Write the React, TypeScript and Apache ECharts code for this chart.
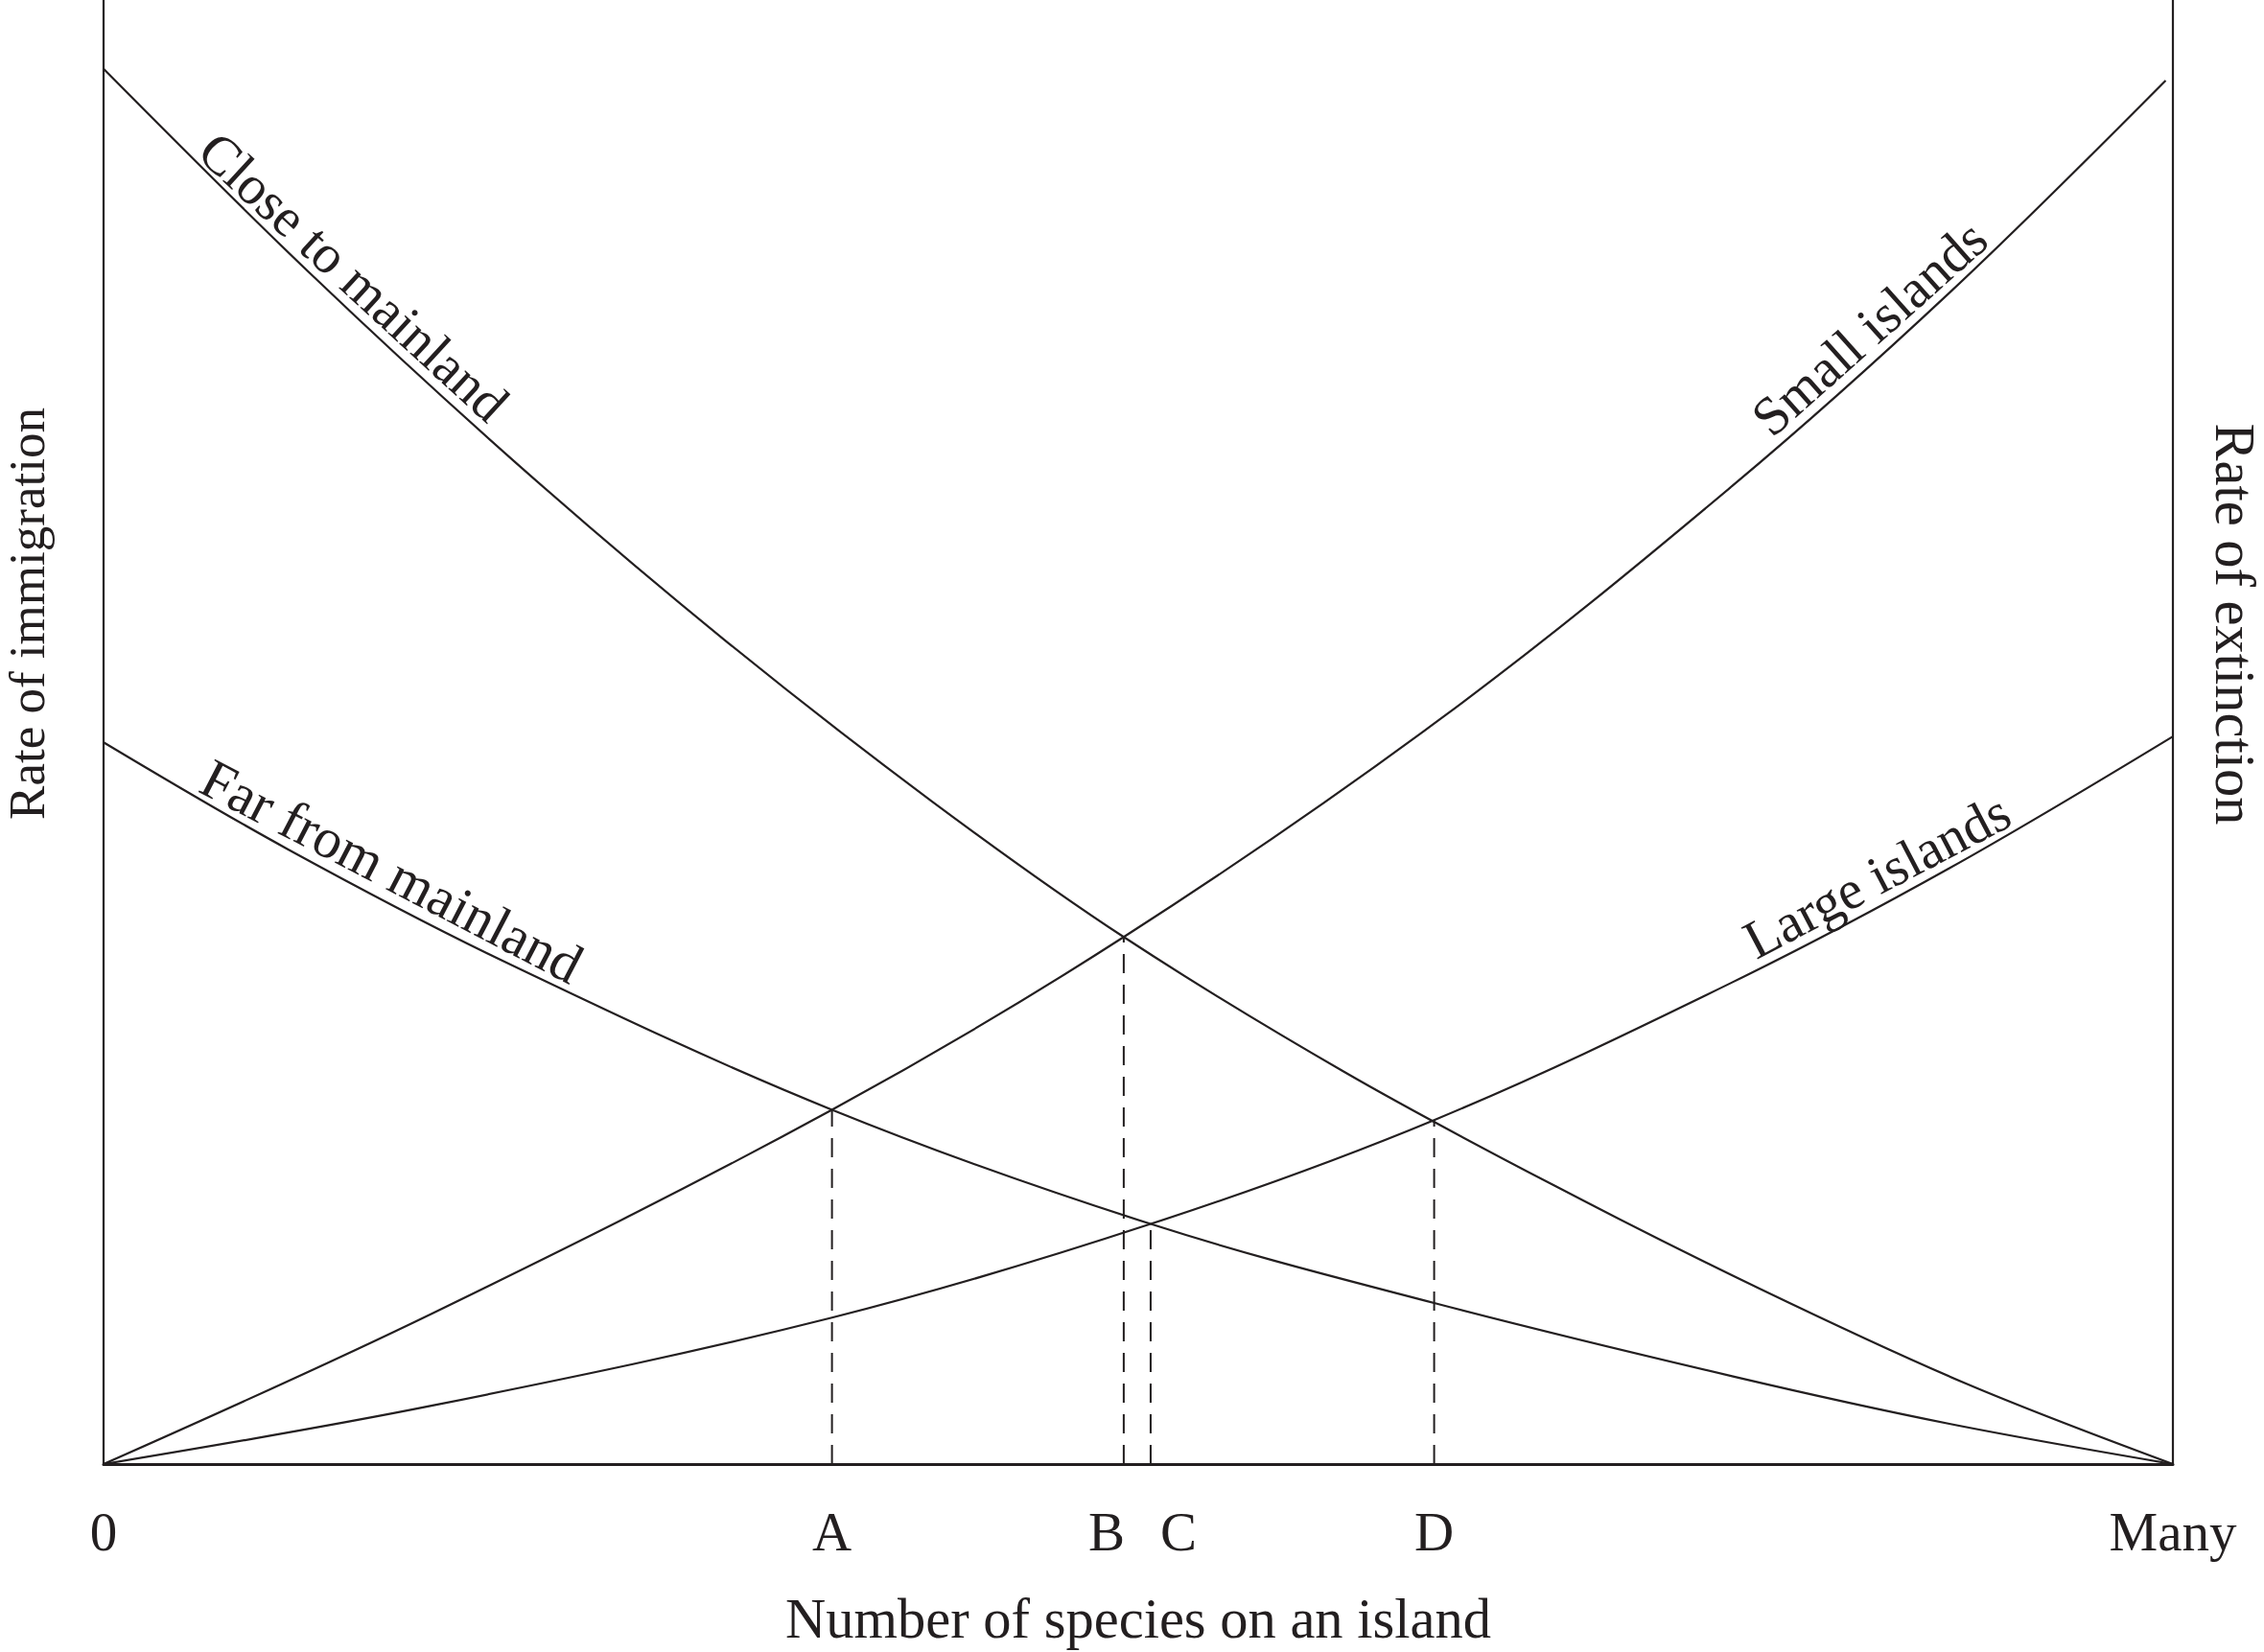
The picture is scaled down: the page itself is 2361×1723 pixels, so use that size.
import React, { useEffect, useRef } from "react";
import * as echarts from "echarts";

// x positions (0 = none, 100 = "Many") and tick labels
const xMarks = [0, 35.2, 49.3, 50.6, 64.3, 100];
const xTickLabels = ["0", "A", "B", "C", "D", "Many"];

// Immigration curves
const closeX = [0, 10, 20, 30, 40, 49.3, 60, 70, 80, 90, 100];
const closeY = [95.3, 81.3, 68.3, 56.3, 45.3, 36.0, 26.75, 19.1, 12.0, 5.5, 0];
const farX = [0, 8.9, 19.4, 35.2, 50.6, 64.3, 78.7, 89.2, 100];
const farY = [49.3, 42.0, 34.3, 24.2, 16.4, 11.0, 6.0, 2.75, 0];

// Extinction curves
const smallX = [0, 15.9, 35.2, 49.3, 64.8, 78.7, 89.2, 99.65];
const smallY = [0, 10.3, 24.2, 36.0, 51.1, 66.8, 80.0, 94.5];
const largeX = [0, 15.9, 35.2, 50.6, 64.3, 78.7, 89.2, 100];
const largeY = [0, 4.0, 10.0, 16.4, 23.5, 32.9, 40.7, 49.7];

// Equilibrium points (dashed drop lines)
const eqX = [35.2, 49.3, 50.6, 64.3];
const eqY = [24.2, 36.0, 16.4, 23.5];

const curveNames = ["Close to mainland", "Far from mainland", "Small islands", "Large islands"];
const labelAnchorX = [11.2, 13.3, 86.2, 86.3];

const INK = "#231f20";
const FONT = "Liberation Serif";
const FS = 57;

function zip(xs: number[], ys: number[]) {
  return xs.map((x, i) => [x, ys[i]]);
}

function interp(xs: number[], ys: number[], x: number) {
  for (let i = 0; i < xs.length - 1; i++) {
    if (x >= xs[i] && x <= xs[i + 1]) {
      const t = (x - xs[i]) / (xs[i + 1] - xs[i]);
      return { y: ys[i] + t * (ys[i + 1] - ys[i]), i };
    }
  }
  return { y: ys[ys.length - 1], i: xs.length - 2 };
}

export default function App() {
  const ref = useRef<HTMLDivElement>(null);
  useEffect(() => {
    if (!ref.current) return;
    const chart = echarts.init(ref.current, null, { renderer: "svg" });
    const curves = [
      [closeX, closeY],
      [farX, farY],
      [smallX, smallY],
      [largeX, largeY],
    ];
    const lineSeries = curves.map(([xs, ys], k) => ({
      type: "line",
      name: curveNames[k],
      data: zip(xs, ys),
      smooth: 0.35,
      symbol: "none",
      lineStyle: { color: INK, width: 2.2 },
      z: 3,
    }));
    const dashSeries = eqX.map((x, k) => ({
      type: "line",
      data: [
        [x, 0],
        [x, eqY[k]],
      ],
      symbol: "none",
      lineStyle: { color: INK, width: 2, type: [20, 12] },
      z: 2,
    }));

    chart.setOption({
      animation: false,
      backgroundColor: "#ffffff",
      grid: { left: 108, right: 95, top: 0, bottom: 190, containLabel: false },
      xAxis: {
        type: "value",
        min: 0,
        max: 100,
        axisLine: { show: true, onZero: false, lineStyle: { color: INK, width: 3 } },
        axisTick: { show: false },
        splitLine: { show: false },
        axisLabel: {
          customValues: xMarks,
          margin: 42,
          fontFamily: FONT,
          fontSize: FS,
          color: INK,
          formatter: (v: number) => {
            const i = xMarks.findIndex((m) => Math.abs(m - v) < 1e-6);
            if (i < 0) return "";
            const t = xTickLabels[i];
            if (t === "B") return "{b|B}";
            if (t === "C") return "{c|C}";
            return t;
          },
          rich: {
            b: { fontFamily: FONT, fontSize: FS, color: INK, padding: [0, 36, 0, 0] },
            c: { fontFamily: FONT, fontSize: FS, color: INK, padding: [0, 0, 0, 58] },
          },
        },
        name: "Number of species on an island",
        nameLocation: "middle",
        nameGap: 132,
        nameTextStyle: { fontFamily: FONT, fontSize: 58.5, color: INK },
      },
      yAxis: [
        {
          type: "value",
          min: 0,
          max: 100,
          position: "left",
          axisLine: { show: true, lineStyle: { color: INK, width: 2.2 } },
          axisTick: { show: false },
          axisLabel: { show: false },
          splitLine: { show: false },
        },
        {
          type: "value",
          min: 0,
          max: 100,
          position: "right",
          axisLine: { show: true, lineStyle: { color: INK, width: 2.2 } },
          axisTick: { show: false },
          axisLabel: { show: false },
          splitLine: { show: false },
        },
      ],
      series: [...lineSeries, ...dashSeries],
    });

    // curve labels, placed along the curves
    const labels = curves.map(([xs, ys], k) => {
      const ax = labelAnchorX[k];
      const { y, i } = interp(xs, ys, ax);
      const p = chart.convertToPixel({ xAxisIndex: 0, yAxisIndex: 0 }, [ax, y]) as number[];
      const p0 = chart.convertToPixel({ xAxisIndex: 0, yAxisIndex: 0 }, [xs[i], ys[i]]) as number[];
      const p1 = chart.convertToPixel({ xAxisIndex: 0, yAxisIndex: 0 }, [xs[i + 1], ys[i + 1]]) as number[];
      const ang = Math.atan2(p1[1] - p0[1], p1[0] - p0[0]);
      return {
        type: "text",
        x: p[0],
        y: p[1],
        rotation: -ang,
        style: {
          text: curveNames[k],
          fontFamily: FONT,
          fontSize: k === 1 ? 58.5 : FS,
          fill: INK,
          align: "center",
          verticalAlign: "bottom",
        },
        z: 10,
      };
    });

    chart.setOption({
      graphic: [
        ...labels,
        {
          type: "text",
          x: 28,
          y: 640,
          rotation: Math.PI / 2,
          style: {
            text: "Rate of immigration",
            fontFamily: FONT,
            fontSize: 53,
            fill: INK,
            align: "center",
            verticalAlign: "middle",
          },
        },
        {
          type: "text",
          x: 2330,
          y: 651,
          rotation: -Math.PI / 2,
          style: {
            text: "Rate of extinction",
            fontFamily: FONT,
            fontSize: 58.5,
            fill: INK,
            align: "center",
            verticalAlign: "middle",
          },
        },
      ],
    });

    return () => chart.dispose();
  }, []);

  return (
    <div
      ref={ref}
      style={{ position: "fixed", left: 0, top: 0, width: 2361, height: 1723, background: "#fff" }}
    />
  );
}
